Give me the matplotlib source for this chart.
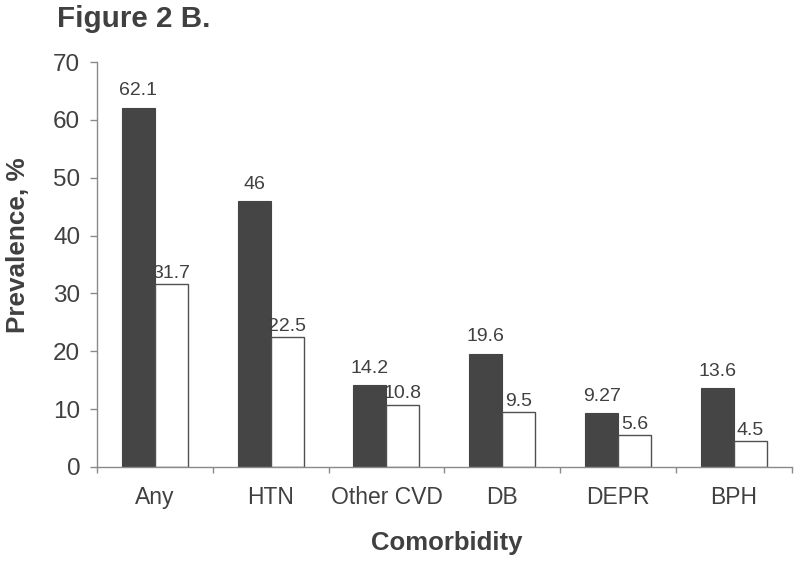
import matplotlib
matplotlib.use("Agg")
import matplotlib.pyplot as plt
import numpy as np

categories = ["Any", "HTN", "Other CVD", "DB", "DEPR", "BPH"]
series_dark = [62.1, 46, 14.2, 19.6, 9.27, 13.6]
series_white = [31.7, 22.5, 10.8, 9.5, 5.6, 4.5]
dark_labels = ["62.1", "46", "14.2", "19.6", "9.27", "13.6"]
white_labels = ["31.7", "22.5", "10.8", "9.5", "5.6", "4.5"]
yticks = [0, 10, 20, 30, 40, 50, 60, 70]

plt.rcParams['font.family'] = ['Liberation Sans', 'DejaVu Sans']
txt = '#404040'
axc = '#8a8a8a'

fig = plt.figure(figsize=(8, 5.64), dpi=100)
ax = fig.add_axes([0.121, 0.172, 0.869, 0.718])

x = np.arange(len(categories))
w = 0.285
ax.bar(x - w/2, series_dark, width=w, color='#454545', edgecolor='#454545', linewidth=0.8)
ax.bar(x + w/2, series_white, width=w, color='white', edgecolor='#505050', linewidth=1.0)

for xi, v, l in zip(x, series_dark, dark_labels):
    ax.annotate(l, (xi - w/2, v), xytext=(0, 6), textcoords='offset points',
                ha='center', va='bottom', fontsize=14, color=txt)
for xi, v, l in zip(x, series_white, white_labels):
    ax.annotate(l, (xi + w/2, v), xytext=(0, 1.5), textcoords='offset points',
                ha='center', va='bottom', fontsize=14, color=txt)

ax.set_xlim(-0.5, len(categories) - 0.5)
ax.set_ylim(0, 70)
ax.set_yticks(yticks)
ax.set_xticks(x)
ax.set_xticklabels(categories)
ax.set_xticks(np.arange(len(categories) + 1) - 0.5, minor=True)

for s in ['top', 'right']:
    ax.spines[s].set_visible(False)
for s in ['left', 'bottom']:
    ax.spines[s].set_color(axc)
    ax.spines[s].set_linewidth(1.0)

ax.tick_params(axis='y', direction='out', length=5, width=1, color=axc,
               labelsize=17.5, labelcolor=txt, pad=7)
ax.tick_params(axis='x', which='major', length=0, labelsize=16.5, labelcolor=txt, pad=14)
ax.tick_params(axis='x', which='minor', direction='out', length=4, width=1, color=axc)

fig.text(0.022, 0.566, "Prevalence, %", fontsize=18.8, fontweight='bold', color=txt,
         ha='center', va='center', rotation=90)
fig.text(0.559, 0.037, "Comorbidity", fontsize=18.5, fontweight='bold', color=txt,
         ha='center', va='center')
fig.text(0.071, 0.967, "Figure 2 B.", fontsize=21.3, fontweight='bold', color=txt,
         ha='left', va='center')

fig.savefig("out.png", dpi=100)
